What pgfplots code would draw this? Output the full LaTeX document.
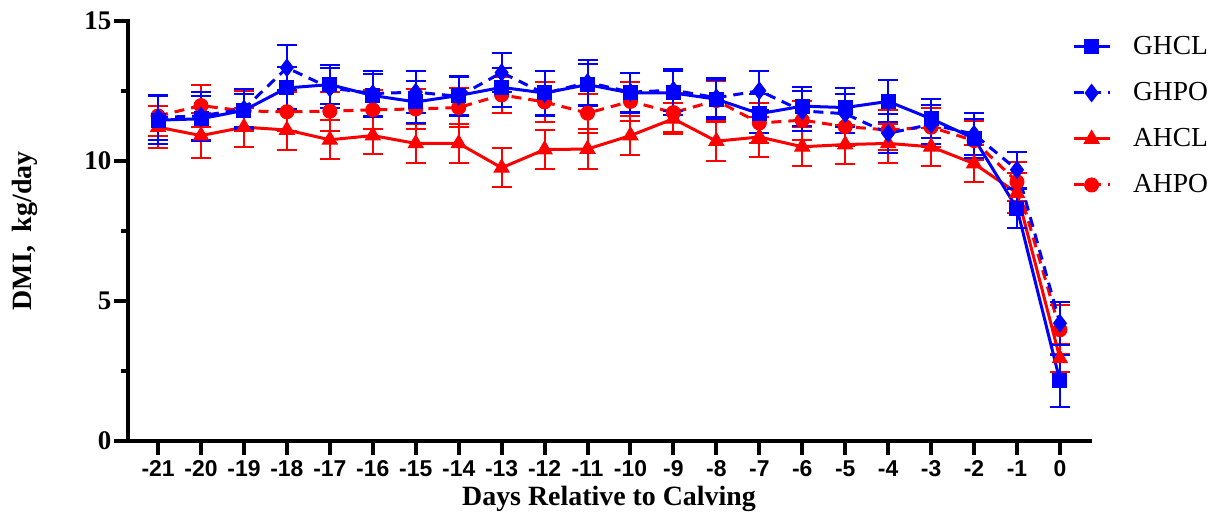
\documentclass[border=0pt]{standalone}
\usepackage{pgfplots}
\pgfplotsset{compat=1.18}
\usepackage{pgfplotstable}
\usepackage{fontspec}
\setmainfont{Liberation Serif}
\newfontfamily\arialfont{Liberation Sans}
\definecolor{pblue}{RGB}{0,0,255}
\definecolor{pred}{RGB}{255,0,0}

\pgfplotstableread{
x   g    eg    gp    egp   a     ea    ap    eap
-21 11.45 0.85 11.55 0.80 11.20 0.75 11.60 0.70
-20 11.50 0.80 11.60 0.85 10.90 0.80 11.97 0.75
-19 11.80 0.60 11.85 0.70 11.20 0.70 11.78 0.70
-18 12.60 0.75 13.32 0.80 11.10 0.70 11.75 0.70
-17 12.72 0.70 12.60 0.70 10.75 0.70 11.77 0.70
-16 12.33 0.75 12.40 0.80 10.90 0.65 11.82 0.70
-15 12.10 0.75 12.45 0.75 10.62 0.70 11.85 0.70
-14 12.33 0.70 12.30 0.70 10.62 0.70 11.90 0.70
-13 12.62 0.70 13.15 0.70  9.75 0.70 12.35 0.65
-12 12.42 0.80 12.40 0.80 10.40 0.70 12.10 0.70
-11 12.72 0.75 12.80 0.80 10.42 0.70 11.70 0.70
-10 12.42 0.70 12.45 0.70 10.90 0.70 12.12 0.70
-9  12.42 0.80 12.52 0.75 11.50 0.55 11.72 0.70
-8  12.20 0.70 12.25 0.70 10.70 0.70 12.15 0.70
-7  11.68 0.70 12.50 0.70 10.85 0.70 11.35 0.70
-6  11.95 0.70 11.78 0.70 10.50 0.70 11.45 0.70
-5  11.90 0.70 11.68 0.70 10.58 0.70 11.22 0.70
-4  12.12 0.75 10.98 0.70 10.62 0.70 11.10 0.70
-3  11.50 0.70 11.30 0.70 10.50 0.67 11.20 0.70
-2  10.80 0.70 10.95 0.75  9.90 0.65 10.72 0.70
-1   8.30 0.70  9.68 0.65  8.85 0.70  9.25 0.70
0    2.15 0.93  4.20 0.77  2.95 0.50  3.97 0.87
}\data

\begin{document}
\begin{tikzpicture}
\path[use as bounding box] (-64bp,-37.5bp) rectangle (540.5bp,220.5bp);
\begin{axis}[
  scale only axis,
  width=481bp, height=210.15bp,
  xmin=-21.7, xmax=0.7, ymin=0, ymax=15,
  clip=false,
  axis lines*=left,
  axis line style={line width=2bp, line cap=rect},
  xtick={-21,...,0},
  ytick={0,5,10,15},
  minor ytick={2.5,7.5,12.5},
  tick align=outside,
  major tick length=6.8bp,
  minor tick length=3.5bp,
  every tick/.style={black, line width=2bp},
  /pgf/number format/assume math mode=true,
  xticklabel style={font=\arialfont\bfseries\fontsize{11.5}{13}\selectfont, yshift=-0.8bp, inner sep=2bp},
  yticklabel style={font=\rmfamily\bfseries\fontsize{13.5}{15}\selectfont, xshift=2bp},
  xlabel={Days Relative to Calving},
  ylabel={DMI,\ \ kg/day},
  xlabel style={font=\rmfamily\bfseries\fontsize{14}{16}\selectfont, at={(axis description cs:0.5,0)}, anchor=base, yshift=-32bp, inner sep=0pt},
  ylabel style={font=\rmfamily\bfseries\fontsize{14}{16}\selectfont, at={(axis description cs:-0.0936,0.5)}, anchor=south, rotate=0, inner sep=0pt},
  reverse legend,
  legend cell align=left,
  legend style={draw=none, fill=none, at={(rel axis cs:0.981,0.9636)}, anchor=north west,
    font=\rmfamily\mdseries\fontsize{13.8}{15}\selectfont, inner sep=0pt, column sep=11bp, row sep=12.4bp,
    nodes={inner sep=0pt}},
  legend image code/.code={\draw[#1, mark repeat=2, mark phase=2] plot coordinates {(0bp,0bp) (9bp,0bp) (18bp,0bp)};},
  every axis plot/.append style={line width=1.5bp},
  error bars/error bar style={line width=1bp, solid},
  error bars/error mark options={rotate=90, mark size=5bp, line width=1bp, solid},
]
\addplot[pred, dashed, dash pattern=on 5bp off 3.5bp, mark=*, mark size=3.5bp, mark options={solid, line width=0.5bp},
  error bars/.cd, y dir=both, y explicit] table[x=x, y=ap, y error=eap] {\data};
\addlegendentry{AHPO}
\addplot[pred, solid, mark=triangle*, mark size=4.3bp, mark options={solid, line width=0.5bp},
  error bars/.cd, y dir=both, y explicit] table[x=x, y=a, y error=ea] {\data};
\addlegendentry{AHCL}
\addplot[pblue, dashed, dash pattern=on 5bp off 3.5bp, mark=diamond*, mark size=4.3bp, mark options={solid, line width=0.5bp},
  error bars/.cd, y dir=both, y explicit] table[x=x, y=gp, y error=egp] {\data};
\addlegendentry{GHPO}
\addplot[pblue, solid, mark=square*, mark size=3.5bp, mark options={solid, line width=0.5bp},
  error bars/.cd, y dir=both, y explicit] table[x=x, y=g, y error=eg] {\data};
\addlegendentry{GHCL}
\end{axis}
\end{tikzpicture}
\end{document}
